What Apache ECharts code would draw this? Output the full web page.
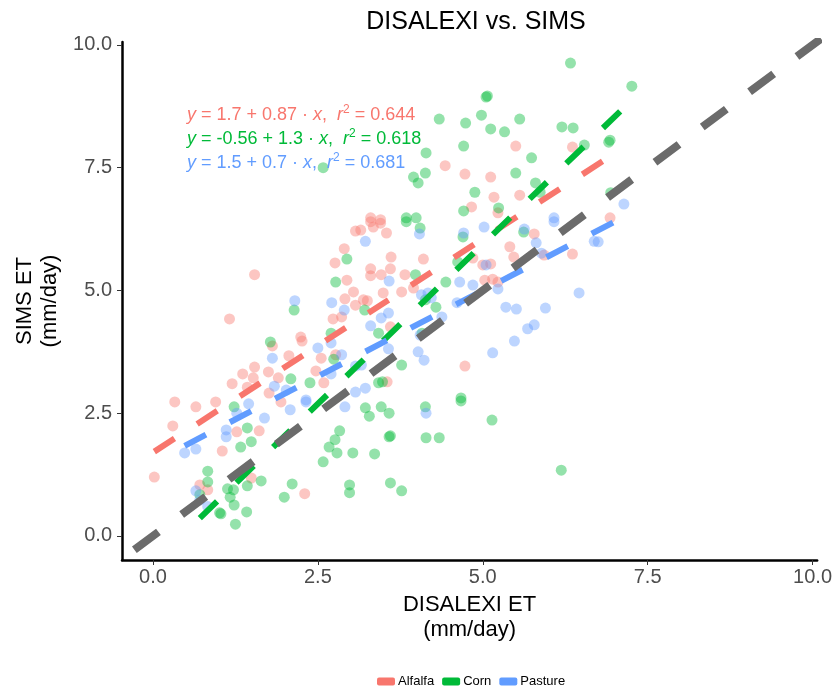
<!DOCTYPE html>
<html><head><meta charset="utf-8">
<script src="https://cdn.jsdelivr.net/npm/echarts@6/dist/echarts.min.js"></script>
<style>html,body{margin:0;padding:0;background:#fff}#c{width:835px;height:686px}</style>
</head><body><div id="c"></div>
<script>
const groups = ['Alfalfa', 'Corn', 'Pasture'];
const colors = ['#F8766D', '#00BA38', '#619CFF'];

const alfalfa = [[0.02,1.20],[0.30,2.24],[0.33,2.73],[0.65,2.63],[0.95,2.73],[0.71,1.04],[0.83,0.94],[1.05,1.73],[1.27,2.12],[1.61,2.14],[1.49,1.18],[1.94,2.73],[2.30,0.86],
[1.54,5.32],[1.16,4.42],[3.07,6.21],[2.90,5.85],[2.76,5.56],[2.94,5.21],[3.04,4.97],[2.91,4.83],[3.07,4.70],[2.73,4.42],[2.86,4.46],[2.24,4.05],[2.26,3.97],[1.81,3.87],[2.06,3.67],[2.55,3.62],[2.77,3.69],[1.54,3.44],[1.75,3.34],[1.36,3.30],[1.52,3.22],[1.90,3.22],[1.20,3.10],[1.43,3.03],[1.76,2.91],[2.47,3.36],[2.59,3.12],
[3.30,6.40],[3.45,6.37],[3.54,6.17],[3.34,6.29],[3.15,6.23],[3.61,5.68],[4.10,5.64],[3.30,5.44],[3.60,5.44],[3.46,5.32],[3.30,5.30],[3.82,5.32],[3.95,5.05],[3.77,4.97],[3.49,4.95],[3.19,4.81],[3.25,4.79],[3.60,4.26],[5.78,6.15],[5.41,5.89],[5.47,5.68],[4.85,5.66],[5.00,5.52],[5.12,5.54],[5.03,5.21],[5.15,5.23],[5.23,5.17],[5.93,5.72],[6.36,5.74],[4.73,3.46],[3.55,3.14],
[5.50,7.94],[6.36,7.92],[4.43,7.54],[4.73,7.37],[5.12,7.31],[5.17,6.90],[4.83,6.70],[5.23,6.58],[5.56,6.94],[3.30,6.48],[3.45,6.44],[6.93,6.48]];

const corn = [[6.33,9.63],[5.05,8.94],[5.07,8.96],[4.98,8.57],[4.34,8.49],[4.74,8.41],[5.56,8.49],[5.12,8.29],[5.33,8.23],[6.20,8.33],[6.37,8.31],[6.54,7.96],[4.71,7.94],[4.14,7.80],[5.74,7.70],[4.13,7.39],[3.95,7.31],[4.02,7.19],[5.50,7.39],[5.80,7.19],[5.87,7.00],[4.88,7.00],[5.24,6.68],[4.71,6.62],[3.84,6.48],[3.99,6.48],
[7.26,9.16],[6.91,8.02],[6.93,8.06],[6.94,6.99],[2.58,7.50],
[2.94,5.64],[2.77,5.17],[2.14,4.60],[2.70,4.13],[1.78,3.95],[2.74,3.60],[2.09,3.20],[2.38,3.12],
[3.84,6.40],[4.05,6.27],[4.70,6.09],[5.62,6.19],[4.62,5.58],[3.98,5.32],[4.44,5.17],[4.13,4.81],[4.29,4.66],[3.21,4.60],[3.42,4.13],[4.08,4.13],[3.77,3.48],[3.42,3.12],[3.48,3.14],[4.67,2.81],
[1.23,2.63],[1.43,2.20],[1.33,1.81],[1.49,1.92],[0.83,1.32],[0.83,1.10],[1.43,1.02],[1.64,1.12],[1.13,0.96],[1.22,0.94],[1.17,0.79],[1.23,0.63],[1.01,0.47],[1.03,0.45],[1.42,0.49],[1.25,0.24],[0.71,0.84],[2.11,1.06],[1.99,0.79],[2.83,2.14],[2.76,1.96],[2.67,1.81],[2.79,1.69],[2.58,1.51],[3.03,1.69],[2.98,1.04],[2.98,0.88],
[3.22,2.61],[3.46,2.63],[3.28,2.44],[3.58,2.50],[4.13,2.63],[4.67,2.75],[5.14,2.36],[3.58,2.02],[3.60,2.04],[4.14,2.00],[4.34,2.00],[3.36,1.67],[3.60,1.08],[3.77,0.92],[6.19,1.34]];

const pasture = [[2.15,4.79],[2.71,4.75],[2.90,4.60],[2.70,3.93],[2.50,3.83],[1.81,3.62],[2.86,3.69],[2.70,3.30],[1.84,3.05],[3.07,3.46],[3.07,2.93],[2.32,2.77],[2.02,2.97],
[1.45,2.69],[1.27,2.50],[1.69,2.40],[1.11,2.16],[1.11,2.02],[0.65,1.77],[0.48,1.69],[2.08,2.57],[2.32,2.73],[2.91,2.63],[0.65,0.92],[0.71,0.73],[0.83,0.60],
[3.22,6.00],[4.04,6.15],[4.71,6.17],[5.02,6.29],[5.63,6.25],[6.08,6.40],[5.81,5.97],[5.89,5.76],[6.69,6.00],[3.58,5.19],[5.05,5.52],[4.65,5.17],[4.85,5.11],[5.23,5.03],[4.07,4.91],[4.17,4.95],[4.22,4.85],[3.57,4.54],[3.46,4.44],[3.30,4.28],[4.38,4.46],[4.61,4.75],[5.35,4.66],[5.51,4.62],[5.95,4.64],[6.46,4.95],[5.78,4.30],[5.68,4.22],[5.48,3.97],[5.15,3.73],[4.02,3.75],[4.11,3.58],[3.57,3.81],[3.16,3.48],[3.22,3.01],[4.05,4.09],
[6.08,6.48],[7.14,6.76],[6.75,5.99],[4.14,2.50]];

const intercepts = [1.7, -0.56, 1.5];
const slopes = [0.87, 1.3, 0.7];
const r2 = [0.644, 0.618, 0.681];
const interceptText = ['1.7', '-0.56', '1.5'];
const slopeText = ['0.87', '1.3', '0.7'];
const r2Text = ['0.644', '0.618', '0.681'];
const xTicks = [0, 2.5, 5, 7.5, 10];
const yTicks = [0, 2.5, 5, 7.5, 10];
const oneToOne = [[-1, -1], [11, 11]];

const dataSets = [alfalfa, corn, pasture];
const FONT = '"Liberation Sans", Arial, sans-serif';

function fitLine(i) {
  const xs = dataSets[i].map(p => p[0]);
  const x0 = Math.min(...xs), x1 = Math.max(...xs);
  return [[x0, intercepts[i] + slopes[i] * x0], [x1, intercepts[i] + slopes[i] * x1]];
}

const series = [];
groups.forEach((g, i) => {
  series.push({
    name: g, type: 'scatter', data: dataSets[i], symbolSize: 11,
    itemStyle: { color: colors[i], opacity: 0.42 }, z: 2
  });
});
groups.forEach((g, i) => {
  series.push({
    name: g + ' fit', type: 'line', data: fitLine(i), symbol: 'none',
    lineStyle: { color: colors[i], width: 6, type: [24, 27] }, z: 3, silent: true
  });
});
series.push({
  name: '1:1', type: 'line', data: oneToOne, symbol: 'none', clip: true,
  lineStyle: { color: '#6b6b6b', width: 8, type: [30, 29] }, z: 4, silent: true
});

const eqGraphics = groups.map((g, i) => ({
  type: 'text', left: 187, top: 104 + i * 24, z: 10,
  style: {
    text: '{i|y} = ' + interceptText[i] + ' + ' + slopeText[i] + ' · {i|x},  {i|r}{s|2} = ' + r2Text[i],
    fill: colors[i], font: '18px ' + FONT,
    rich: {
      i: { fontStyle: 'italic', fontSize: 18, fontFamily: FONT, fill: colors[i] },
      s: { fontSize: 12, fontFamily: FONT, fill: colors[i], padding: [0, 0, 10, 0] }
    }
  }
}));

const chart = echarts.init(document.getElementById('c'), null, { renderer: 'canvas' });
chart.setOption({
  animation: false,
  backgroundColor: '#fff',
  title: {
    text: 'DISALEXI vs. SIMS', left: 471, top: 5, textAlign: 'center',
    textStyle: { fontFamily: FONT, fontSize: 25, fontWeight: 'normal', color: '#000' }
  },
  grid: { left: 122, right: 14, top: 42, bottom: 126, containLabel: false },
  xAxis: {
    type: 'value', min: -0.47, max: 10.07,
    name: 'DISALEXI ET\n(mm/day)', nameLocation: 'middle', nameGap: 32,
    nameTextStyle: { fontFamily: FONT, fontSize: 22, color: '#000', lineHeight: 25 },
    axisLine: { show: true, onZero: false, lineStyle: { color: '#000', width: 2.5 } },
    axisTick: { show: true, length: 5, customValues: xTicks, lineStyle: { color: '#333', width: 1 } },
    axisLabel: { customValues: xTicks, formatter: v => v.toFixed(1), margin: 7,
      fontFamily: FONT, fontSize: 20, color: '#4D4D4D' },
    splitLine: { show: false }
  },
  yAxis: {
    type: 'value', min: -0.49, max: 10.06,
    name: 'SIMS ET\n(mm/day)', nameLocation: 'middle', nameGap: 60, nameRotate: 90,
    nameTextStyle: { fontFamily: FONT, fontSize: 22, color: '#000', lineHeight: 25 },
    axisLine: { show: true, onZero: false, lineStyle: { color: '#000', width: 2.5 } },
    axisTick: { show: true, length: 5, customValues: yTicks, lineStyle: { color: '#333', width: 1 } },
    axisLabel: { customValues: yTicks, formatter: v => v.toFixed(1), margin: 10,
      fontFamily: FONT, fontSize: 20, color: '#4D4D4D' },
    splitLine: { show: false }
  },
  legend: {
    left: 372, top: 670, itemWidth: 18, itemHeight: 8, itemGap: 8, icon: 'roundRect',
    data: groups.map((g, i) => ({ name: g, itemStyle: { color: colors[i], opacity: 1 } })),
    textStyle: { fontFamily: FONT, fontSize: 13, color: '#000', padding: [0, 0, 0, -2] }
  },
  graphic: eqGraphics,
  series: series
});
</script>
</body></html>
